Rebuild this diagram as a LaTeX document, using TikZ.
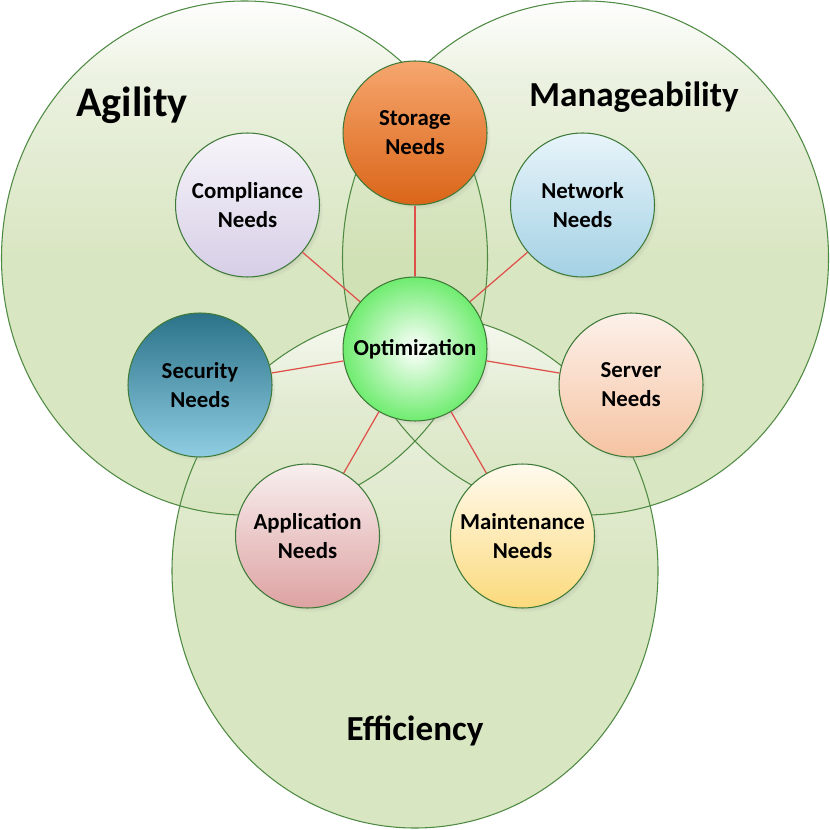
\documentclass[tikz,border=0pt]{standalone}
\usepackage{fontspec}
\setmainfont{Carlito}
\usetikzlibrary{shadows}

\definecolor{ringgreen}{HTML}{D0E0B3}
\definecolor{ringlight}{HTML}{E6EED8}
\definecolor{ringedge}{HTML}{4E8A42}
\definecolor{neededge}{HTML}{3E7A38}
\definecolor{linkred}{HTML}{E0504A}
\definecolor{storagetop}{HTML}{F6A66E}
\definecolor{storagebot}{HTML}{DA6518}
\definecolor{compltop}{HTML}{F7F5FA}
\definecolor{complbot}{HTML}{D6CEE6}
\definecolor{nettop}{HTML}{E8F4FA}
\definecolor{netbot}{HTML}{A3D1E4}
\definecolor{sectop}{HTML}{2B7289}
\definecolor{secbot}{HTML}{8FCDE2}
\definecolor{servtop}{HTML}{FDF1EA}
\definecolor{servbot}{HTML}{F5C3A2}
\definecolor{apptop}{HTML}{F8EFEF}
\definecolor{appbot}{HTML}{DEA2A2}
\definecolor{mainttop}{HTML}{FFFAEE}
\definecolor{maintbot}{HTML}{FBDA7C}
\definecolor{optimout}{HTML}{6FEC6F}

\pgfdeclareverticalshading{ringshade}{100bp}{color(0bp)=(ringgreen); color(25bp)=(ringgreen); color(50bp)=(ringgreen); color(67bp)=(ringlight); color(75bp)=(white); color(100bp)=(white)}

\tikzstyle{every node}=[font=\bfseries, align=center]
\tikzstyle{ringfill}=[shade, shading=ringshade, fill opacity=0.8]
\tikzstyle{ringline}=[draw=ringedge, line width=0.6pt]
\tikzstyle{ringlabel}=[anchor=base, font=\fontsize{20}{24}\selectfont\bfseries]
\tikzstyle{need}=[circle, draw=neededge, line width=0.6pt, minimum size=2.88cm, inner sep=0pt,
  font=\fontsize{13}{16.4}\selectfont\bfseries,
  circular drop shadow={shadow xshift=2pt, shadow yshift=-2.5pt, shadow scale=1.0, opacity=0.35}]
\tikzstyle{link}=[draw=linkred, line width=0.7pt]

\begin{document}
\begin{tikzpicture}[x=0.02cm, y=-0.02cm]
    \fill [white] (0,0) rectangle (830,830);
    \useasboundingbox (0,0) rectangle (830,830);

    \path [ringfill] (244.5,258) ellipse [x radius=243, y radius=257];
    \path [ringfill] (585.5,258) ellipse [x radius=243, y radius=257];
    \path [ringfill] (415,571) ellipse [x radius=243, y radius=257];
    \draw [ringline] (244.5,258) ellipse [x radius=243, y radius=257];
    \draw [ringline] (585.5,258) ellipse [x radius=243, y radius=257];
    \draw [ringline] (415,571) ellipse [x radius=243, y radius=257];

    \node [ringlabel, font=\fontsize{24}{28}\selectfont\bfseries] (agility) at (132,117) {Agility};
    \node [ringlabel] (manage) at (634,107) {Manageability};
    \node [ringlabel] (effic) at (415,740) {Efficiency};

    \node [need, top color=storagetop, bottom color=storagebot] (storage) at (415,133) {Storage\\Needs};
    \node [need, top color=compltop, bottom color=complbot] (compliance) at (247.5,205) {Compliance\\Needs};
    \node [need, top color=nettop, bottom color=netbot] (network) at (582.5,205) {Network\\Needs};
    \node [need, top color=sectop, bottom color=secbot] (security) at (200,385) {Security\\Needs};
    \node [need, top color=servtop, bottom color=servbot] (server) at (631,385) {Server\\Needs};
    \node [need, top color=apptop, bottom color=appbot] (application) at (307.5,536) {Application\\Needs};
    \node [need, top color=mainttop, bottom color=maintbot] (maintenance) at (522.5,536) {Maintenance\\Needs};
    \node [need, inner color=white, outer color=optimout] (optim) at (415,349) {Optimization};

    \draw [link] (optim) -- (storage);
    \draw [link] (optim) -- (compliance);
    \draw [link] (optim) -- (network);
    \draw [link] (optim) -- (security);
    \draw [link] (optim) -- (server);
    \draw [link] (optim) -- (application);
    \draw [link] (optim) -- (maintenance);
\end{tikzpicture}
\end{document}
